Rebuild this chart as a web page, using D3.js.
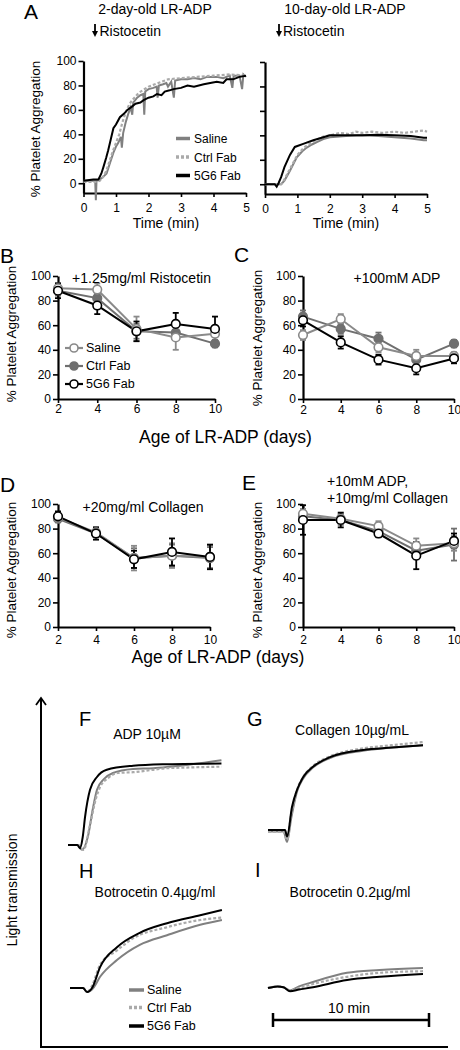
<!DOCTYPE html>
<html><head><meta charset="utf-8">
<script src="https://cdnjs.cloudflare.com/ajax/libs/d3/7.8.5/d3.min.js"></script>
<style>body{margin:0;background:#fff}svg{display:block}text{font-family:"Liberation Sans",Arial,sans-serif}</style>
</head><body><svg id="c" width="460" height="1050"></svg>
<script>
// ---------- DATA ----------
const seriesNames = ["Saline", "Ctrl Fab", "5G6 Fab"];
const yTicks = [0, 20, 40, 60, 80, 100];
const timeTicks = [0, 1, 2, 3, 4, 5];
const dayTicks = [2, 4, 6, 8, 10];
const days = [2, 4, 6, 8, 10];

// Panel A: [time (min), % aggregation]
const a2Saline = [[0,2],[0.36,2],[0.38,-14],[0.4,2],[0.5,3],[0.6,5],[0.71,8],[0.82,17],[0.92,25],[1.0,30],[1.07,33],[1.15,38],[1.18,29],[1.22,41],[1.3,50],[1.38,57],[1.45,62],[1.5,56],[1.53,66],[1.65,70],[1.75,72],[1.84,73],[1.87,56],[1.9,75],[2.0,77],[2.15,78],[2.25,79],[2.28,70],[2.32,80],[2.45,81],[2.55,82],[2.6,79],[2.7,83],[2.78,70],[2.82,84],[3.0,85],[3.2,85],[3.4,86],[3.6,85],[3.8,87],[4.1,87],[4.3,86],[4.5,88],[4.58,78],[4.62,88],[4.8,88],[4.88,77],[4.92,89],[5.0,87]];
const a2Ctrl = [[0,1],[0.4,1],[0.5,2],[0.6,5],[0.7,10],[0.8,18],[0.9,26],[1.0,33],[1.1,40],[1.2,50],[1.3,58],[1.4,64],[1.5,68],[1.7,74],[2.0,79],[2.3,82],[2.6,85],[3.0,86],[3.5,87],[4.0,88],[4.5,89],[5.0,88]];
const a2G56 = [[0,2],[0.3,3],[0.46,3],[0.55,8],[0.61,13],[0.7,21],[0.76,27],[0.84,36],[0.92,45],[1.0,48],[1.12,54],[1.25,57],[1.35,60],[1.48,62.5],[1.6,65],[1.75,66],[1.85,68],[2.0,70],[2.15,71],[2.26,73],[2.4,72],[2.5,75],[2.65,76],[2.77,77],[3.0,78],[3.2,80],[3.4,79],[3.7,81],[3.9,82],[4.1,83],[4.3,82],[4.4,85],[4.6,85],[4.8,87],[5.0,88]];
const a10Saline = [[0,0],[0.5,0],[0.6,3],[0.77,11],[0.98,22],[1.15,27],[1.29,30],[1.45,32.5],[1.6,34.5],[1.8,37],[2.0,38.5],[2.5,39.5],[3.0,40],[3.5,39.5],[4.0,38.5],[4.5,37.5],[4.9,36],[5.0,36]];
const a10Ctrl = [[0,0],[0.5,0],[0.6,4],[0.8,14],[1.0,24],[1.2,30],[1.5,35],[1.8,39],[2.0,40],[2.3,42],[2.6,41],[2.8,43],[3.0,42],[3.3,43],[3.6,42],[4.0,43],[4.3,42],[4.6,43],[4.9,44],[5.0,43]];
const a10G56 = [[0,0],[0.3,0],[0.36,-2],[0.42,1],[0.5,6],[0.6,14],[0.77,24],[0.92,30.5],[1.18,33],[1.49,36],[1.75,38],[2.0,40],[2.5,40],[3.0,40],[3.5,40.5],[4.0,40],[4.5,39.5],[4.9,38],[5.0,38]];

// Panels B-E: means and errors
const bSaline = [90, 89, 57, 50, 53], bSalineErr = [4, 5, 10, 10, 6];
const bCtrl   = [88, 82, 55, 54, 45], bCtrlErr   = [4, 4, 6, 5, 3];
const bG56    = [88, 76, 55, 61, 57], bG56Err    = [6, 7, 8, 9, 10];
const cSaline = [52, 65, 42, 35, 35], cSalineErr = [4, 4, 4, 5, 3];
const cCtrl   = [67, 57, 49, 32, 45], cCtrlErr   = [5, 4, 5, 4, 3];
const cG56    = [64, 46, 32, 25, 33], cG56Err    = [5, 5, 4, 5, 4];
const dSaline = [89, 77, 56, 58, 57], dSalineErr = [3, 4, 10, 10, 9];
const dCtrl   = [88, 76, 56, 58, 56], dCtrlErr   = [3, 3, 8, 9, 9];
const dG56    = [90, 76, 55, 61, 57], dG56Err    = [4, 5, 7, 11, 10];
const eSaline = [92, 88, 82, 66, 68], eSalineErr = [4, 4, 4, 6, 6];
const eCtrl   = [90, 87, 78, 62, 67], eCtrlErr   = [4, 4, 4, 7, 13];
const eG56    = [87, 87, 76, 58, 70], eG56Err    = [12, 6, 3, 11, 6];

// Panels F-I: [time (min), light transmission (a.u.)]
const fSaline = [[0,0],[0.6,0],[0.9,-6],[1.3,12],[1.6,45],[1.87,69],[2.3,82],[2.9,90],[4.2,95],[5.5,96],[6.4,97.5],[8,101],[9.9,106]];
const fCtrl   = [[0,0],[0.7,0],[1.0,-6],[1.42,25],[1.8,58],[2.06,72],[2.6,84],[3.2,90],[4.2,91],[5.5,94],[6.4,96],[8,97],[9.9,98]];
const fG56    = [[0,0],[0.6,0],[0.77,-4],[0.95,10],[1.1,35],[1.42,69],[1.87,85],[2.5,94],[4.2,99],[6.4,101],[9.9,102]];
const gSaline = [[0,-2],[1.0,-2],[1.23,-15],[1.5,15],[1.87,48],[2.26,64],[2.9,78],[4.0,90],[6.13,99],[8,103],[10,106]];
const gCtrl   = [[0,-2],[1.0,-2],[1.23,-12],[1.5,20],[1.87,50],[2.26,66],[2.9,80],[4.0,92],[6.13,102],[8,106],[10,110]];
const gG56    = [[0,0],[1.1,0],[1.23,-8],[1.55,29],[1.87,50],[2.26,66],[2.9,79],[4.0,91],[6.13,100],[8,103],[10,106]];
const hSaline = [[0,0],[0.84,0],[1.1,-5],[1.5,0],[1.94,14],[3.03,35],[4.5,54],[6.26,66],[8.4,79],[9.8,85]];
const hCtrl   = [[0,0],[0.84,0],[1.1,-5],[1.4,2],[1.94,29],[3.03,47],[4.06,62],[6.26,76],[8.4,85],[9.8,88]];
const hG56    = [[0,0],[0.84,0],[1.1,-5],[1.45,1],[1.94,26],[3.03,51],[4.5,69],[6.26,81],[8.4,91],[9.8,97.5]];
const iSaline = [[0,0],[0.6,2],[1.0,1],[1.42,-3],[2.0,2],[2.9,7.5],[5.1,19],[7.2,22.5],[10,25]];
const iCtrl   = [[0,0],[0.6,2],[1.0,1],[1.42,-3],[2.0,0],[2.9,5],[5.1,14],[7.2,19],[10,21]];
const iG56    = [[0,0],[0.6,2],[1.0,1],[1.42,-4],[2.0,-2],[2.9,1],[5.1,10],[7.2,14],[10,17.5]];

// ---------- DRAWING ----------
const svg = d3.select('#c');
const COL = {saline:'#808080', ctrl:'#aaaaaa', g56:'#000000'};
const DOT = {saline:'#8a8a8a', ctrl:'#6f6f6f', g56:'#000000'};

function txt(x, y, s, size, anchor, rotate) {
  const t = svg.append('text').attr('x', x).attr('y', y).attr('font-size', size)
    .attr('fill', '#000').text(s);
  if (anchor) t.attr('text-anchor', anchor);
  if (rotate) t.attr('transform', `rotate(-90,${x},${y})`);
  return t;
}
function styleAxis(g, fs) {
  g.select('.domain').attr('stroke-width', 2.2).attr('stroke', '#000');
  g.selectAll('.tick line').attr('stroke-width', 1.6).attr('stroke', '#000');
  g.selectAll('.tick text').attr('font-size', fs).attr('fill', '#000')
    .attr('font-family', '"Liberation Sans", Arial, sans-serif');
}

// ----- Panel A -----
function panelA(x0, x1, yTop, yBottom, showY, sal, ctrl, g56) {
  const x = d3.scaleLinear().domain([0, 5]).range([x0, x1]);
  const y = d3.scaleLinear().domain([-8, 100]).range([yBottom, yTop]);
  const ya = d3.axisLeft(y).tickValues(yTicks).tickSize(5).tickPadding(2).tickSizeOuter(0).tickFormat(d3.format('d'));
  if (!showY) ya.tickFormat('');
  const gy = svg.append('g').attr('transform', `translate(${x0},0)`).call(ya);
  styleAxis(gy, 12);
  const gx = svg.append('g').attr('transform', `translate(0,${yBottom})`)
    .call(d3.axisBottom(x).tickValues(timeTicks).tickFormat(d3.format('d')).tickSize(4).tickPadding(6).tickSizeOuter(0));
  styleAxis(gx, 12);
  const ln = d3.line().x(d => x(d[0])).y(d => y(d[1]));
  svg.append('path').datum(sal).attr('d', ln).attr('fill', 'none').attr('stroke', COL.saline).attr('stroke-width', 2);
  svg.append('path').datum(ctrl).attr('d', ln).attr('fill', 'none').attr('stroke', COL.ctrl).attr('stroke-width', 2.2).attr('stroke-dasharray', '3,2');
  svg.append('path').datum(g56).attr('d', ln).attr('fill', 'none').attr('stroke', COL.g56).attr('stroke-width', 2);
}
panelA(83.5, 246, 61, 193, true, a2Saline, a2Ctrl, a2G56);
panelA(265, 427, 62, 194, false, a10Saline, a10Ctrl, a10G56);

txt(24, 19, 'A', 21);
txt(155, 14, '2-day-old LR-ADP', 14, 'middle');
txt(345, 14, '10-day-old LR-ADP', 14, 'middle');
function ristArrow(ax, tx) {
  svg.append('line').attr('x1', ax).attr('x2', ax).attr('y1', 24).attr('y2', 33).attr('stroke', '#000').attr('stroke-width', 1.8);
  svg.append('path').attr('d', `M${ax-3},31 L${ax+3},31 L${ax},37 Z`).attr('fill', '#000');
  txt(tx, 36, 'Ristocetin', 14);
}
ristArrow(95, 99.5);
ristArrow(279, 283);
txt(40, 129, '% Platelet Aggregation', 13.5, 'middle', true);
txt(166, 228, 'Time (min)', 14, 'middle');
txt(346, 228, 'Time (min)', 14, 'middle');
// legend A
[[COL.saline, null, 138.5, 143], [COL.ctrl, '3,2', 157, 162], [COL.g56, null, 175.5, 180]].forEach((d, i) => {
  const l = svg.append('line').attr('x1', 176).attr('x2', 190).attr('y1', d[2]).attr('y2', d[2])
    .attr('stroke', d[0]).attr('stroke-width', 3.5);
  if (d[1]) l.attr('stroke-dasharray', d[1]);
  txt(194, d[3], seriesNames[i], 12);
});

// ----- Panels B-E -----
function panelDays(x0, x1, yTop, yZero, pad, series) {
  const x = d3.scaleLinear().domain([2, 10]).range([x0, x1]);
  const y = d3.scaleLinear().domain([0, 100]).range([yZero, yTop]);
  const gy = svg.append('g').attr('transform', `translate(${x0},0)`)
    .call(d3.axisLeft(y).tickValues(yTicks).tickSize(5).tickPadding(2).tickSizeOuter(0));
  styleAxis(gy, 12);
  const gx = svg.append('g').attr('transform', `translate(0,${yZero})`)
    .call(d3.axisBottom(x).tickValues(dayTicks).tickSize(4).tickPadding(pad).tickSizeOuter(0));
  styleAxis(gx, 12);
  // error bars
  series.forEach(s => {
    days.forEach((dd, i) => {
      const cx = x(dd), y1 = y(s.v[i] - s.e[i]), y2 = y(s.v[i] + s.e[i]);
      svg.append('line').attr('x1', cx).attr('x2', cx).attr('y1', y1).attr('y2', y2).attr('stroke', s.c).attr('stroke-width', 1.8);
      [y1, y2].forEach(yy => svg.append('line').attr('x1', cx - 3).attr('x2', cx + 3).attr('y1', yy).attr('y2', yy).attr('stroke', s.c).attr('stroke-width', 1.8));
    });
  });
  const ln = d3.line().x((d, i) => x(days[i])).y(d => y(d));
  series.forEach(s => {
    svg.append('path').datum(s.v).attr('d', ln).attr('fill', 'none').attr('stroke', s.c).attr('stroke-width', 2);
  });
  series.forEach(s => {
    svg.selectAll(null).data(s.v).enter().append('circle')
      .attr('cx', (d, i) => x(days[i])).attr('cy', d => y(d)).attr('r', 4.3)
      .attr('fill', s.f).attr('stroke', s.c).attr('stroke-width', 1.6);
  });
}
function mk(sal, salE, ctrl, ctrlE, g, gE) {
  return [
    {v: ctrl, e: ctrlE, c: DOT.ctrl, f: DOT.ctrl},
    {v: sal, e: salE, c: DOT.saline, f: '#fff'},
    {v: g, e: gE, c: DOT.g56, f: '#fff'}
  ];
}
panelDays(58, 215, 276, 399, 1, mk(bSaline, bSalineErr, bCtrl, bCtrlErr, bG56, bG56Err));
panelDays(303, 454, 276, 399, 2, mk(cSaline, cSalineErr, cCtrl, cCtrlErr, cG56, cG56Err));
panelDays(58, 210, 504, 627, 4, mk(dSaline, dSalineErr, dCtrl, dCtrlErr, dG56, dG56Err));
panelDays(303, 454, 504, 627, 4, mk(eSaline, eSalineErr, eCtrl, eCtrlErr, eG56, eG56Err));

txt(0, 263, 'B', 21);
txt(234, 262, 'C', 21);
txt(0, 492, 'D', 21);
txt(242, 490, 'E', 21);
txt(141.5, 283, '+1.25mg/ml Ristocetin', 14, 'middle');
txt(397, 283, '+100mM ADP', 14, 'middle');
txt(143, 512, '+20mg/ml Collagen', 14, 'middle');
txt(327, 486, '+10mM ADP,', 14);
txt(327, 503, '+10mg/ml Collagen', 14);
txt(16, 334, '% Platelet Aggregation', 13.5, 'middle', true);
txt(262, 338, '% Platelet Aggregation', 13.5, 'middle', true);
txt(16, 570, '% Platelet Aggregation', 13.5, 'middle', true);
txt(262, 570, '% Platelet Aggregation', 13.5, 'middle', true);
txt(225.5, 443, 'Age of LR-ADP (days)', 17.5, 'middle');
txt(218, 663, 'Age of LR-ADP (days)', 17.5, 'middle');
// legend B
[[DOT.saline, '#fff', 348, 352], [DOT.ctrl, DOT.ctrl, 366, 370], [DOT.g56, '#fff', 384, 388]].forEach((d, i) => {
  svg.append('line').attr('x1', 65).attr('x2', 83).attr('y1', d[2]).attr('y2', d[2]).attr('stroke', d[0]).attr('stroke-width', 2.2);
  svg.append('circle').attr('cx', 74).attr('cy', d[2]).attr('r', 4).attr('fill', d[1]).attr('stroke', d[0]).attr('stroke-width', 1.6);
  txt(86, d[3], seriesNames[i], 12.5);
});

// ----- Panels F-I -----
function trace(x0, base, sal, ctrl, g) {
  const x = d3.scaleLinear().domain([0, 10]).range([x0, x0 + 155]);
  const y = d3.scaleLinear().domain([0, 100]).range([base, base - 80]);
  const ln = d3.line().x(d => x(d[0])).y(d => y(d[1])).curve(d3.curveMonotoneX);
  svg.append('path').datum(sal).attr('d', ln).attr('fill', 'none').attr('stroke', COL.saline).attr('stroke-width', 2);
  svg.append('path').datum(ctrl).attr('d', ln).attr('fill', 'none').attr('stroke', COL.ctrl).attr('stroke-width', 2.2).attr('stroke-dasharray', '3,2');
  svg.append('path').datum(g).attr('d', ln).attr('fill', 'none').attr('stroke', COL.g56).attr('stroke-width', 2);
}
trace(68, 845, fSaline, fCtrl, fG56);
trace(268, 830, gSaline, gCtrl, gG56);
trace(70, 988, hSaline, hCtrl, hG56);
trace(268, 988, iSaline, iCtrl, iG56);

txt(79, 726, 'F', 20);
txt(247, 726, 'G', 20);
txt(79, 878, 'H', 20);
txt(255, 877, 'I', 20);
txt(147, 739, 'ADP 10\u00b5M', 14, 'middle');
txt(352, 735, 'Collagen 10\u00b5g/mL', 14, 'middle');
txt(155, 897, 'Botrocetin 0.4\u00b5g/ml', 14, 'middle');
txt(350, 897, 'Botrocetin 0.2\u00b5g/ml', 14, 'middle');
txt(17, 890, 'Light transmission', 14, 'middle', true);
// big axes
svg.append('line').attr('x1', 41).attr('x2', 41).attr('y1', 698).attr('y2', 1047).attr('stroke', '#000').attr('stroke-width', 2);
svg.append('path').attr('d', 'M36,705 L41,698 L46,705').attr('fill', 'none').attr('stroke', '#000').attr('stroke-width', 1.8);
svg.append('line').attr('x1', 40).attr('x2', 448).attr('y1', 1047).attr('y2', 1047).attr('stroke', '#000').attr('stroke-width', 2);
// scale bar
svg.append('line').attr('x1', 273).attr('x2', 429).attr('y1', 1020).attr('y2', 1020).attr('stroke', '#000').attr('stroke-width', 2.5);
[273, 429].forEach(xx => svg.append('line').attr('x1', xx).attr('x2', xx).attr('y1', 1013).attr('y2', 1027).attr('stroke', '#000').attr('stroke-width', 2.5));
txt(349, 1013, '10 min', 14, 'middle');
// legend H
[[COL.saline, null, 990, 994], [COL.ctrl, '3,2', 1007.5, 1012], [COL.g56, null, 1026, 1030]].forEach((d, i) => {
  const l = svg.append('line').attr('x1', 129).attr('x2', 144).attr('y1', d[2]).attr('y2', d[2])
    .attr('stroke', d[0]).attr('stroke-width', 3.5);
  if (d[1]) l.attr('stroke-dasharray', d[1]);
  txt(147, d[3], seriesNames[i], 12.5);
});
</script></body></html>
